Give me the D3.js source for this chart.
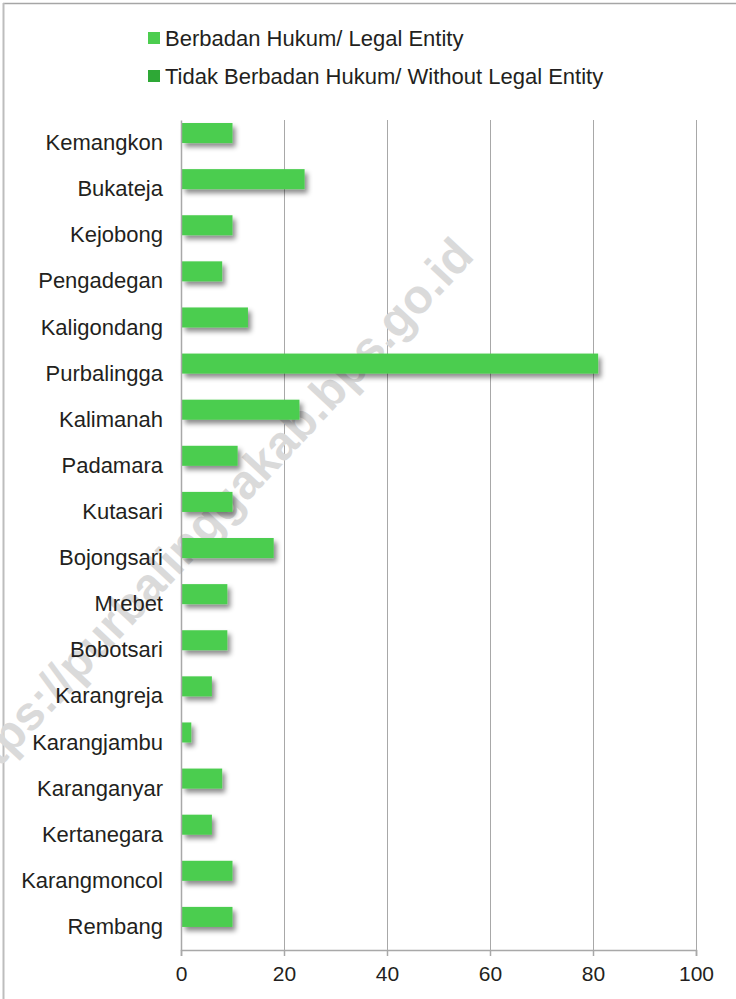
<!DOCTYPE html>
<html>
<head>
<meta charset="utf-8">
<script src="https://cdn.jsdelivr.net/npm/d3@7"></script>
<style>
  html, body { margin: 0; padding: 0; background: #fff; }
  svg { display: block; }
  text { font-family: "Liberation Sans", Arial, sans-serif; fill: #231f20; }
</style>
</head>
<body>
<script>
const categories = ["Kemangkon","Bukateja","Kejobong","Pengadegan","Kaligondang","Purbalingga","Kalimanah","Padamara","Kutasari","Bojongsari","Mrebet","Bobotsari","Karangreja","Karangjambu","Karanganyar","Kertanegara","Karangmoncol","Rembang"];
const legalEntity = [10,24,10,8,13,81,23,11,10,18,9,9,6,2,8,6,10,10];
const withoutLegalEntity = [0,0,0,0,0,0,0,0,0,0,0,0,0,0,0,0,0,0];
const seriesNames = ["Berbadan Hukum/ Legal Entity","Tidak Berbadan Hukum/ Without Legal Entity"];
const seriesColors = ["#4ccd4f","#2ea836"];
const xTicks = [0,20,40,60,80,100];
const watermark = "https://purbalinggakab.bps.go.id";

const W = 736, H = 999;
const svg = d3.select("body").append("svg").attr("width", W).attr("height", H);

const defs = svg.append("defs");
const f = defs.append("filter").attr("id","shadow").attr("x","-20%").attr("y","-50%").attr("width","150%").attr("height","250%");
f.append("feDropShadow").attr("dx",3).attr("dy",4).attr("stdDeviation",2.5).attr("flood-color","#000").attr("flood-opacity",0.45);

// frame
svg.append("line").attr("x1",3).attr("x2",W).attr("y1",3.5).attr("y2",3.5).attr("stroke","#a6a6a6").attr("stroke-width",1.5);
svg.append("line").attr("x1",3.5).attr("x2",3.5).attr("y1",3).attr("y2",H).attr("stroke","#bdbdbd").attr("stroke-width",2);

const x = d3.scaleLinear().domain([0,100]).range([181,696]);
const y = d3.scaleBand().domain(categories).range([120,950]).padding(0);
const sub = d3.scaleBand().domain([0,1]).range([0,y.bandwidth()]).paddingOuter(0.15).paddingInner(0);

// gridlines
svg.append("g").selectAll("line").data(xTicks.slice(1)).join("line")
  .attr("x1",d=>x(d)+0.5).attr("x2",d=>x(d)+0.5).attr("y1",120).attr("y2",950)
  .attr("stroke","#a8a8a8").attr("stroke-width",1);

// watermark
svg.append("text")
  .attr("transform","translate(210,518) rotate(-47)")
  .attr("text-anchor","middle").attr("dominant-baseline","central")
  .style("font-size","48px").style("font-weight","bold").style("fill","#dadada")
  .text(watermark);

// bars
const series = [legalEntity, withoutLegalEntity];
series.forEach((vals, si) => {
  svg.append("g").attr("filter","url(#shadow)").selectAll("rect")
    .data(categories.map((c,i)=>({c, v: vals[i]})).filter(d=>d.v>0)).join("rect")
    .attr("x", x(0)+1).attr("y", d=>y(d.c)+sub(si))
    .attr("width", d=>x(d.v)-x(0)-1).attr("height", sub.bandwidth())
    .attr("fill", seriesColors[si]);
});

// axes
const xAxis = svg.append("g").attr("transform","translate(0,950)")
  .call(d3.axisBottom(x).tickValues(xTicks).tickSize(6).tickPadding(10).tickFormat(d3.format("d")));
xAxis.select(".domain").attr("stroke","#a8a8a8").attr("stroke-width",1.5);
xAxis.selectAll(".tick line").attr("stroke","#a8a8a8").attr("stroke-width",1.5);
xAxis.selectAll("text").style("font-size","21px").style("font-family","Liberation Sans, Arial, sans-serif").attr("fill","#231f20");

const yAxis = svg.append("g").attr("transform","translate(181,0)")
  .call(d3.axisLeft(y).tickSize(0).tickPadding(18));
yAxis.select(".domain").attr("stroke","#a8a8a8").attr("stroke-width",1.5);
yAxis.selectAll("text").style("font-size","22px").style("font-family","Liberation Sans, Arial, sans-serif").attr("fill","#231f20");

// legend
const lg = svg.append("g");
seriesNames.forEach((n,i)=>{
  const cy = 38 + i*38;
  lg.append("rect").attr("x",148).attr("y",cy-6).attr("width",12).attr("height",12).attr("fill",seriesColors[i]);
  lg.append("text").attr("x",165).attr("y",cy).attr("dominant-baseline","central")
    .style("font-size","22px").text(n);
});
</script>
</body>
</html>
